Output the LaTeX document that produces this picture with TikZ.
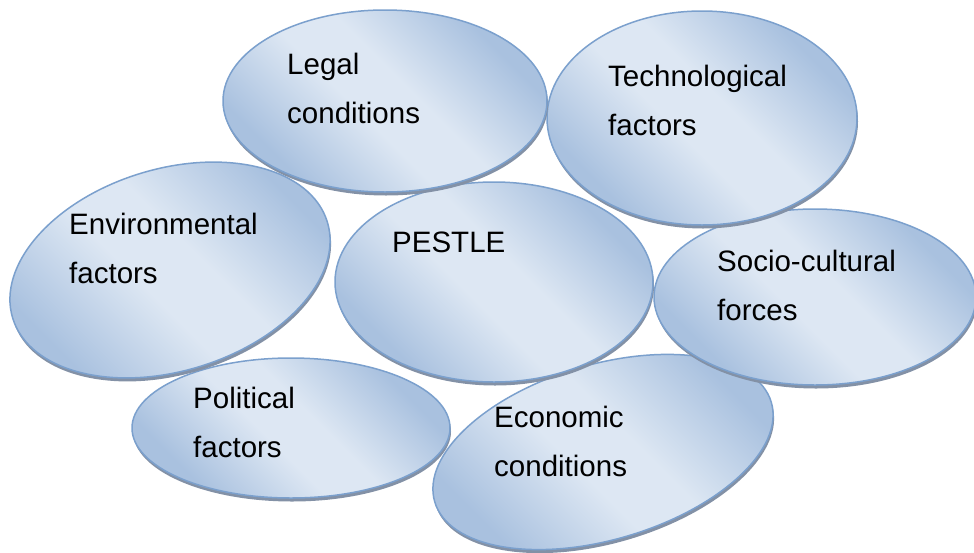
\documentclass[tikz,border=0pt]{standalone}
\usepackage{fontspec}
\setmainfont{Liberation Sans}
\usetikzlibrary{shapes.geometric,shadows}
\definecolor{gdark}{HTML}{A9C1DF}
\definecolor{glight}{HTML}{DDE7F3}
\definecolor{gedge}{HTML}{7BA0CD}
\definecolor{gshadow}{HTML}{8391A6}
\pgfdeclareverticalshading{bubbleshade}{100bp}{color(0bp)=(gdark); color(27bp)=(gdark); color(45bp)=(glight); color(55bp)=(glight); color(73bp)=(gdark); color(100bp)=(gdark)}
\tikzset{
  bubble/.style={ellipse, draw=gedge, line width=1.5pt, shading=bubbleshade, shading angle=-45,
    inner sep=0pt, outer sep=0pt,
    drop shadow={shadow xshift=1pt, shadow yshift=-3.5pt, fill=gshadow, opacity=1}},
  txt/.style={anchor=base west, align=left, font=\fontsize{29.5}{49}\selectfont,
    text=black, inner sep=0pt}
}
\begin{document}
\begin{tikzpicture}[x=1pt,y=-1pt]
\path[fill=white, use as bounding box] (0,0) rectangle (974,552);
% ellipses, bottom layer first
\node[bubble, minimum width=351, minimum height=175, rotate=16.5] (econ) at (603,452) {};
\node[bubble, minimum width=322, minimum height=176] (socio) at (815,297) {};
\node[bubble, minimum width=318, minimum height=140] (poli) at (291,428) {};
\node[bubble, minimum width=329, minimum height=202, rotate=17] (env) at (170,270) {};
\node[bubble, minimum width=318, minimum height=200] (pestle) at (494,282) {};
\node[bubble, minimum width=310, minimum height=214] (tech) at (702,118) {};
\node[bubble, minimum width=324, minimum height=182] (legal) at (385,101) {};
% texts (base anchor = baseline of the last line)
\node[txt] (tlegal) at (287,123) {Legal\\conditions};
\node[txt] (ttech) at (608,135) {Technological\\factors};
\node[txt] (tenv) at (69,283) {Environmental\\factors};
\node[txt] (tpestle) at (392,252) {PESTLE};
\node[txt] (tsocio) at (717,320) {Socio-cultural\\forces};
\node[txt] (tpoli) at (193,457) {Political\\factors};
\node[txt] (tecon) at (494,476) {Economic\\conditions};
\end{tikzpicture}
\end{document}
